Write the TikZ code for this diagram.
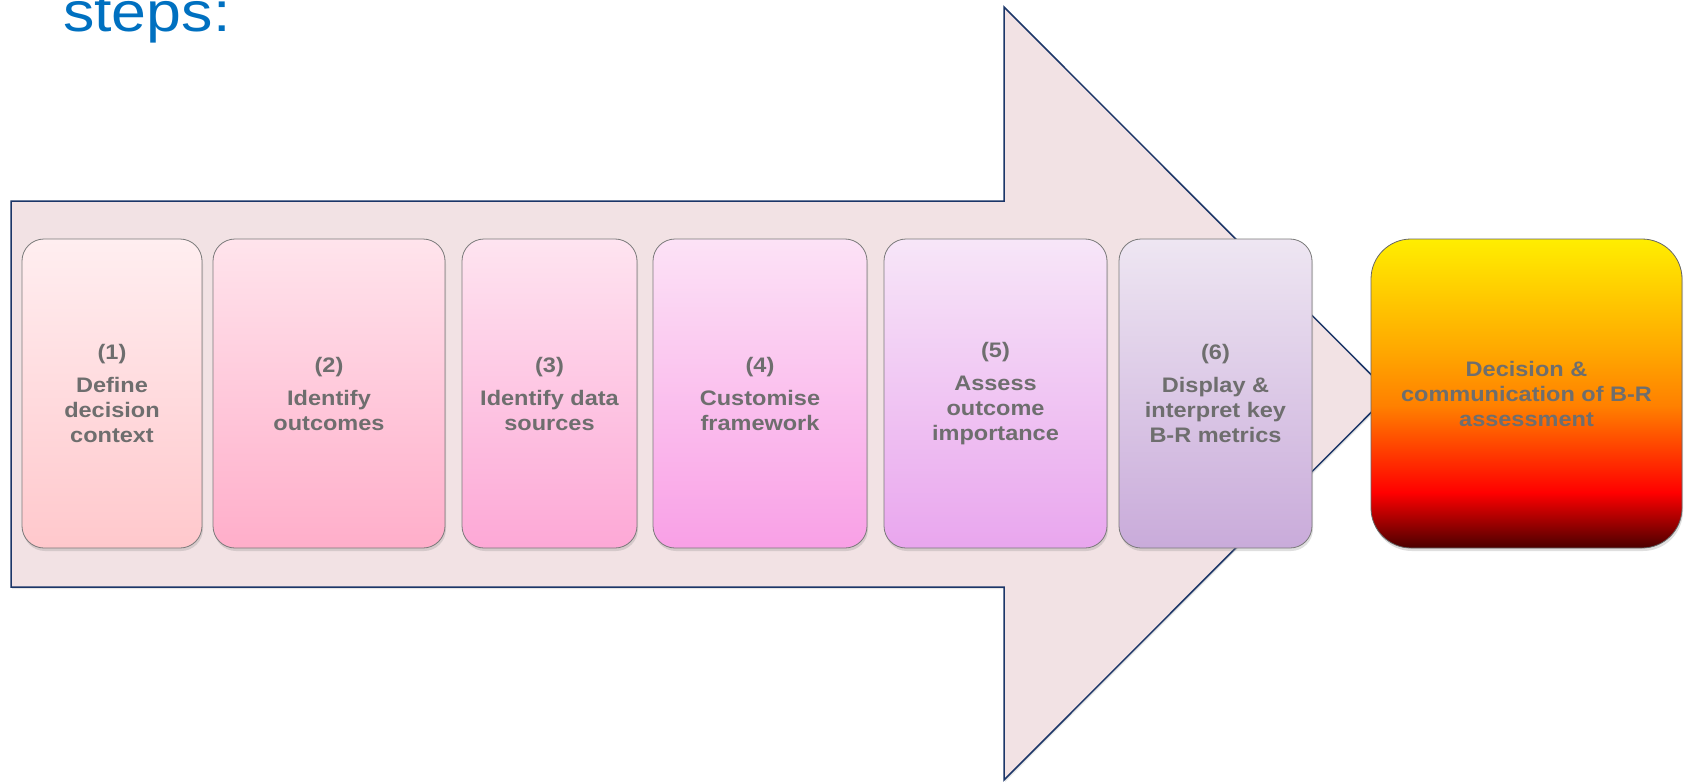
\documentclass[tikz,border=0pt]{standalone}
\usepackage{fontspec}
\setmainfont{Liberation Sans}[FakeStretch=1.12]
\usetikzlibrary{shadows}
\definecolor{arrowfill}{HTML}{F2E2E4}
\definecolor{arrowline}{HTML}{1C3668}
\definecolor{txtgray}{HTML}{6E6E6E}
\definecolor{boxline}{HTML}{7A7A7A}
\definecolor{titleblue}{HTML}{0070C0}
\definecolor{aT}{HTML}{FFEEF0}\definecolor{aB}{HTML}{FFC8CC}
\definecolor{bT}{HTML}{FFE4EC}\definecolor{bB}{HTML}{FFAECA}
\definecolor{cT}{HTML}{FEE4F0}\definecolor{cB}{HTML}{FDA8D6}
\definecolor{dT}{HTML}{FCE2F6}\definecolor{dB}{HTML}{F9A0E6}
\definecolor{eT}{HTML}{F7E6F8}\definecolor{eB}{HTML}{E9A6EE}
\definecolor{fT}{HTML}{EEE6F2}\definecolor{fB}{HTML}{C9ABDA}
\definecolor{gA}{HTML}{4A0000}
\definecolor{gB}{HTML}{FF0000}
\definecolor{gC}{HTML}{FF8000}
\definecolor{gD}{HTML}{FFA800}
\definecolor{gE}{HTML}{FFEE00}
\pgfdeclareverticalshading{finalshade}{100bp}{color(0bp)=(gA); color(25bp)=(gA); color(34bp)=(gB); color(48bp)=(gC); color(57bp)=(gD); color(75bp)=(gE); color(100bp)=(gE)}
\tikzset{
  stepbox/.style={draw=boxline, line width=0.8pt, rounded corners=22pt, inner sep=0pt,
    minimum height=309pt, align=center, text=txtgray,
    font=\bfseries\fontsize{21}{25}\selectfont,
    drop shadow={shadow xshift=1pt, shadow yshift=-3pt, opacity=0.25}},
}
\begin{document}
\begin{tikzpicture}[x=1pt,y=-1pt]
\useasboundingbox (0,0) rectangle (1685,781);
\node[anchor=base west, inner sep=0pt, text=titleblue, font=\fontsize{56}{64}\selectfont] (title) at (63,32) {steps:};
\draw[fill=arrowfill, draw=arrowline, line width=1.5pt, drop shadow={shadow xshift=1pt, shadow yshift=-2pt, opacity=0.2}]
  (11,201) -- (1004,201) -- (1004,7) -- (1390,393.5) -- (1004,780) -- (1004,587) -- (11,587) -- cycle;
\node[stepbox, minimum width=180pt, top color=aT, bottom color=aB] (s1) at (112,393.5) {(1)\\[8pt]Define\\decision\\context};
\node[stepbox, minimum width=232pt, top color=bT, bottom color=bB] (s2) at (329,393.5) {(2)\\[8pt]Identify\\outcomes};
\node[stepbox, minimum width=175pt, top color=cT, bottom color=cB] (s3) at (549.5,393.5) {(3)\\[8pt]Identify data\\sources};
\node[stepbox, minimum width=214pt, top color=dT, bottom color=dB] (s4) at (760,393.5) {(4)\\[8pt]Customise\\framework};
\node[stepbox, minimum width=223pt, top color=eT, bottom color=eB] (s5) at (995.5,393.5) {(5)\\[8pt]Assess\\outcome\\importance};
\node[stepbox, minimum width=193pt, top color=fT, bottom color=fB] (s6) at (1215.5,393.5) {(6)\\[8pt]Display \&\\interpret key\\B-R metrics};
\node[stepbox, rounded corners=40pt, draw=black!60, minimum width=311pt, shading=finalshade] (fin) at (1526.5,393.5) {Decision \&\\communication of B-R\\assessment};
\end{tikzpicture}
\end{document}
